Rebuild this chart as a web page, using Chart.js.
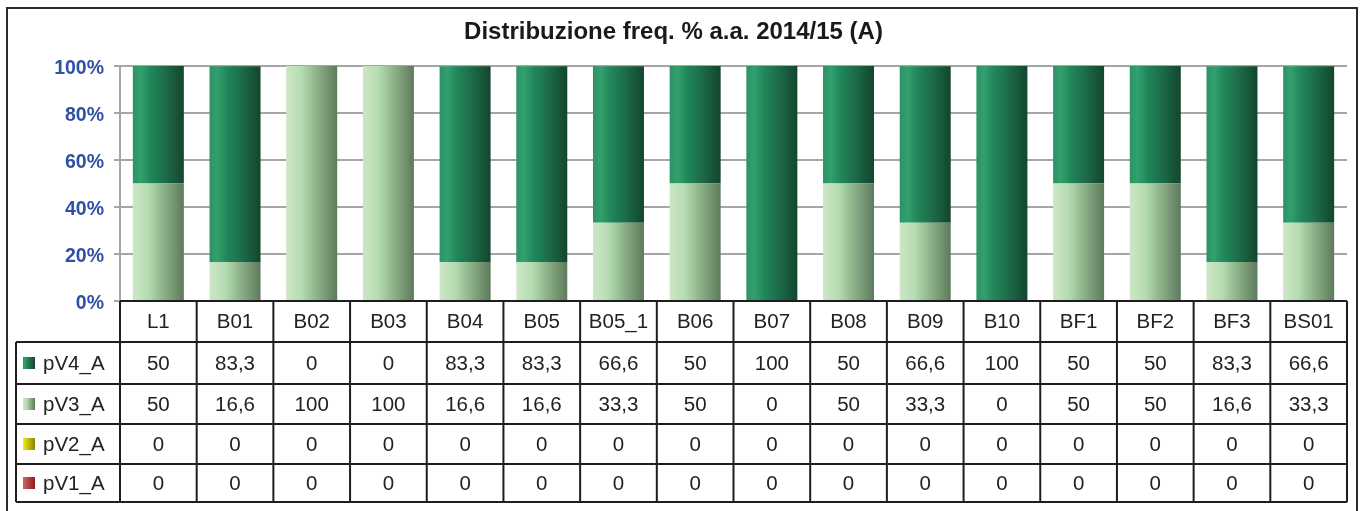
<!DOCTYPE html>
<html lang="it">
<head>
    <meta charset="UTF-8">
    <title>Distribuzione freq. % a.a. 2014/15 (A)</title>
    <script src="https://cdn.jsdelivr.net/npm/chart.js"></script>
    <style>
        body {
            margin: 0;
            padding: 0;
            background: #fff;
        }

        .wrap {
            position: relative;
            width: 1362px;
            height: 511px;
        }
    </style>
</head>
<body>
    <div class="wrap">
        <canvas id="freqChart" width="1362" height="511"></canvas>
    </div>

    <script>
        // data
        const categories = ['L1', 'B01', 'B02', 'B03', 'B04', 'B05', 'B05_1', 'B06', 'B07', 'B08', 'B09', 'B10', 'BF1', 'BF2', 'BF3', 'BS01'];
        const pV4 = [50, 83.3, 0, 0, 83.3, 83.3, 66.6, 50, 100, 50, 66.6, 100, 50, 50, 83.3, 66.6];
        const pV3 = [50, 16.6, 100, 100, 16.6, 16.6, 33.3, 50, 0, 50, 33.3, 0, 50, 50, 16.6, 33.3];
        const pV2 = [0, 0, 0, 0, 0, 0, 0, 0, 0, 0, 0, 0, 0, 0, 0, 0];
        const pV1 = [0, 0, 0, 0, 0, 0, 0, 0, 0, 0, 0, 0, 0, 0, 0, 0];
        const seriesNames = ['pV4_A', 'pV3_A', 'pV2_A', 'pV1_A'];
        const chartTitle = 'Distribuzione freq. % a.a. 2014/15 (A)';

        const FONT = "'Liberation Sans', Arial, sans-serif";
        const BAR_PCT = 0.665;

        // horizontal gradients, like the Excel "cylinder" fill
        const stopsV4 = [[0, '#2c9265'], [0.15, '#33a06d'], [0.35, '#208659'], [0.6, '#1d6f4b'], [1, '#13452d']];
        const stopsV3 = [[0, '#cde6c6'], [0.3, '#b6dcb2'], [0.55, '#93b98f'], [1, '#5e795c']];
        const stopsV2 = [[0, '#f2ee10'], [1, '#8a8200']];
        const stopsV1 = [[0, '#cc6666'], [1, '#8b1d1d']];

        function barFill(stops) {
            return function (ctx) {
                const chart = ctx.chart;
                const xs = chart.scales.x;
                if (!xs || !chart.chartArea) return stops[0][1];
                const cx = xs.getPixelForValue(ctx.dataIndex);
                const half = (xs.width / categories.length) * BAR_PCT / 2;
                const g = chart.ctx.createLinearGradient(cx - half, 0, cx + half, 0);
                stops.forEach(s => g.addColorStop(s[0], s[1]));
                return g;
            };
        }

        const fmt = v => String(v).replace('.', ',');

        // outer frame
        const framePlugin = {
            id: 'frame',
            beforeDraw(chart) {
                const c = chart.ctx;
                c.save();
                c.fillStyle = '#fff';
                c.fillRect(0, 0, chart.width, chart.height);
                c.strokeStyle = '#2b2b2b';
                c.lineWidth = 2;
                c.strokeRect(7, 8, 1350, 520);
                c.restore();
            }
        };

        // data table under the plot, columns taken from the x scale
        const tablePlugin = {
            id: 'dataTable',
            afterDraw(chart) {
                const c = chart.ctx;
                const xs = chart.scales.x;
                const left = chart.chartArea.left;
                const right = chart.chartArea.right;
                const colW = xs.width / categories.length;
                const legendLeft = 16;
                const rowsY = [301, 342, 384, 424, 464, 502];
                const rows = [pV4, pV3, pV2, pV1];
                const swatches = [stopsV4, stopsV3, stopsV2, stopsV1];

                c.save();
                c.font = '20.5px ' + FONT;
                c.fillStyle = '#222';
                c.textAlign = 'center';
                c.textBaseline = 'middle';

                // header with category names
                categories.forEach((cat, i) => {
                    c.fillText(cat, xs.getPixelForValue(i), (rowsY[0] + rowsY[1]) / 2 + 1);
                });

                // value rows
                rows.forEach((vals, r) => {
                    const yMid = (rowsY[r + 1] + rowsY[r + 2]) / 2 + 1;
                    vals.forEach((v, i) => {
                        c.fillText(fmt(v), xs.getPixelForValue(i), yMid);
                    });
                    const g = c.createLinearGradient(23, 0, 35, 0);
                    swatches[r].forEach(s => g.addColorStop(s[0], s[1]));
                    c.fillStyle = g;
                    c.fillRect(23, yMid - 7, 12, 12);
                    c.fillStyle = '#222';
                    c.textAlign = 'left';
                    c.fillText(seriesNames[r], 43, yMid);
                    c.textAlign = 'center';
                });

                // grid lines
                c.strokeStyle = '#1e1e1e';
                c.lineWidth = 2;
                c.beginPath();
                c.moveTo(left, rowsY[0]);
                c.lineTo(right, rowsY[0]);
                for (let r = 1; r < rowsY.length; r++) {
                    c.moveTo(legendLeft, rowsY[r]);
                    c.lineTo(right, rowsY[r]);
                }
                c.moveTo(legendLeft, rowsY[1]);
                c.lineTo(legendLeft, rowsY[rowsY.length - 1]);
                for (let i = 0; i <= categories.length; i++) {
                    const x = left + i * colW;
                    c.moveTo(x, rowsY[0]);
                    c.lineTo(x, rowsY[rowsY.length - 1]);
                }
                c.stroke();
                c.restore();
            }
        };

        const barStyle = {
            categoryPercentage: 1,
            barPercentage: BAR_PCT,
            borderWidth: 0
        };

        new Chart(document.getElementById('freqChart'), {
            type: 'bar',
            data: {
                labels: categories,
                datasets: [
                    Object.assign({ label: seriesNames[3], data: pV1, backgroundColor: barFill(stopsV1) }, barStyle),
                    Object.assign({ label: seriesNames[2], data: pV2, backgroundColor: barFill(stopsV2) }, barStyle),
                    Object.assign({ label: seriesNames[1], data: pV3, backgroundColor: barFill(stopsV3) }, barStyle),
                    Object.assign({ label: seriesNames[0], data: pV4, backgroundColor: barFill(stopsV4) }, barStyle)
                ]
            },
            options: {
                responsive: false,
                animation: false,
                layout: {
                    padding: { left: 0, right: 15, top: 0, bottom: 210 }
                },
                plugins: {
                    legend: { display: false },
                    tooltip: { enabled: false },
                    title: {
                        display: true,
                        text: chartTitle,
                        color: '#1a1a1a',
                        font: { family: FONT, size: 24, weight: 'bold' },
                        padding: { top: 17.6, bottom: 19.6 }
                    }
                },
                scales: {
                    x: {
                        stacked: true,
                        display: false
                    },
                    y: {
                        stacked: true,
                        min: 0,
                        max: 100,
                        afterFit(scale) {
                            scale.width = 120;
                        },
                        ticks: {
                            stepSize: 20,
                            padding: 10,
                            labelOffset: 3,
                            color: '#2f50a3',
                            font: { family: FONT, size: 19.5, weight: 'bold' },
                            callback: v => v + '%'
                        },
                        grid: {
                            color: '#a6a6a6',
                            lineWidth: 2,
                            tickLength: 6
                        },
                        border: {
                            color: '#a6a6a6',
                            width: 2
                        }
                    }
                }
            },
            plugins: [framePlugin, tablePlugin]
        });
    </script>
</body>
</html>
